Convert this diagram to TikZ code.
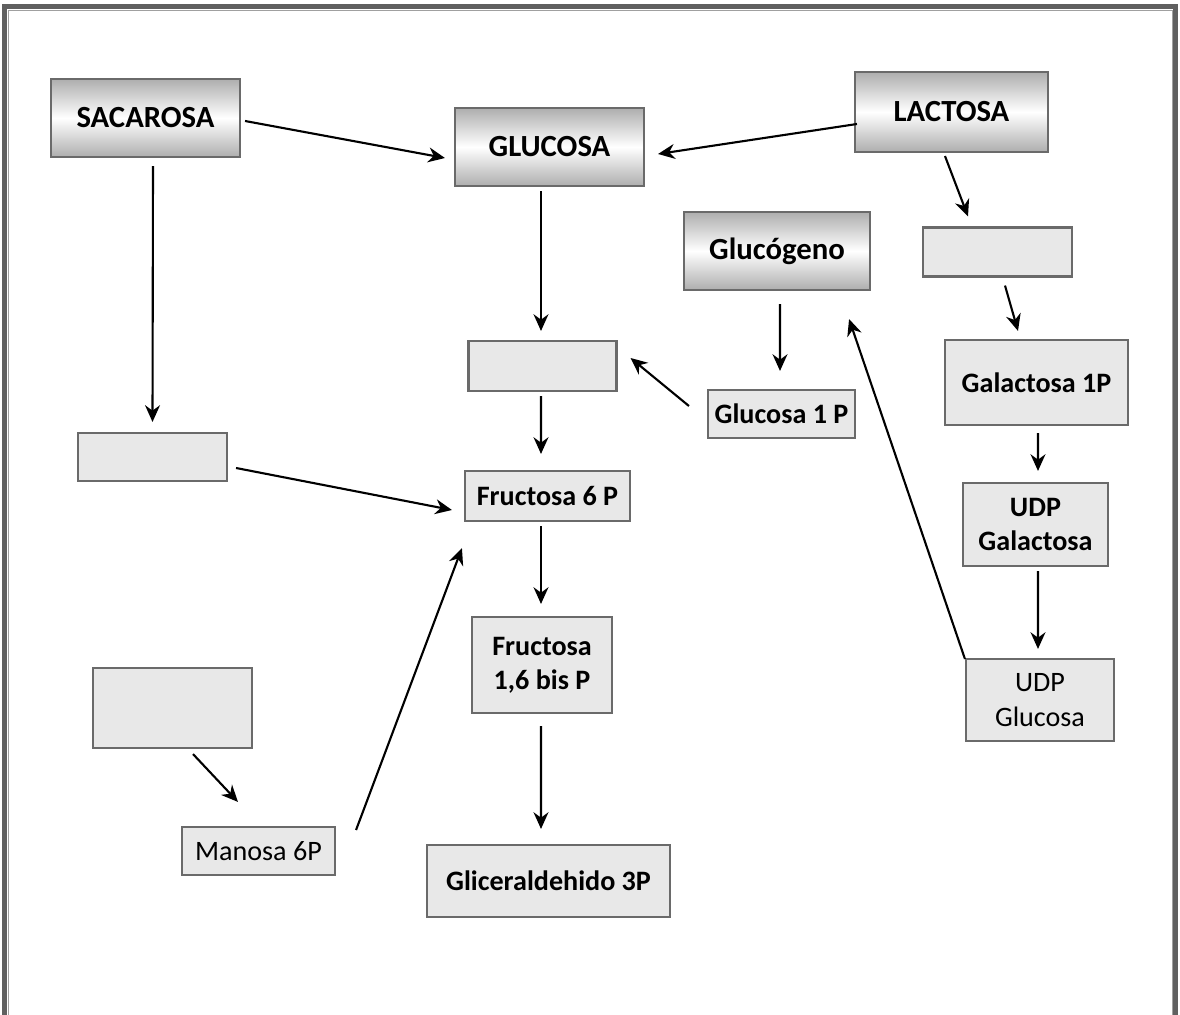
\documentclass[tikz,border=0pt]{standalone}
\usepackage{fontspec}
\setmainfont{Carlito}
\usetikzlibrary{arrows.meta}
\definecolor{boxfill}{HTML}{E8E8E8}
\definecolor{boxline}{HTML}{6A6A6A}
\definecolor{shadegray}{HTML}{AEAEAE}
\definecolor{framegray}{HTML}{606060}

\begin{document}
\begin{tikzpicture}[
    base/.style={
      draw=boxline, line width=1.2pt, inner sep=2pt,
      align=center, text=black,
    },
    plainbox/.style={base, fill=boxfill, font=\fontsize{16}{19.5}\selectfont\bfseries},
    thinbox/.style={base, fill=boxfill, font=\fontsize{16}{19.5}\selectfont},
    sugar/.style={base, top color=shadegray, bottom color=shadegray, middle color=white,
      font=\fontsize{17.5}{20}\selectfont\bfseries},
    link/.style={line width=1.2pt, -{Stealth[length=9.5pt,width=8.5pt]}},
  ]
  \useasboundingbox (0,0) rectangle (23.6,-20.3);

  % ===== frame (open at the bottom) =====
  \draw[framegray, line width=2.4pt] (0.09,-20.3) -- (0.09,-0.13) -- (23.51,-0.13) -- (23.51,-20.3);
  \draw[framegray!60, line width=0.4pt] (0.16,-20.3) -- (0.16,-0.2) -- (23.44,-0.2) -- (23.44,-20.3);

  % ===== shaded sugars =====
  \node[sugar, minimum width=3.78cm, minimum height=1.56cm] (sacarosa)  at (2.91,-2.36)  {SACAROSA};
  \node[sugar, minimum width=3.78cm, minimum height=1.56cm] (glucosa)   at (10.99,-2.94) {GLUCOSA};
  \node[sugar, minimum width=3.86cm, minimum height=1.60cm] (lactosa)   at (19.03,-2.24) {LACTOSA};
  \node[sugar, minimum width=3.72cm, minimum height=1.56cm] (glucogeno) at (15.54,-5.02) {Glucógeno};

  % ===== empty boxes =====
  \node[plainbox, minimum width=2.98cm, minimum height=0.98cm] (vaciolac)  at (19.95,-5.04)  {};
  \node[plainbox, minimum width=2.96cm, minimum height=1.00cm] (vacioglc)  at (10.85,-7.32)  {};
  \node[plainbox, minimum width=2.98cm, minimum height=0.96cm] (vaciosac)  at (3.05,-9.14)   {};
  \node[plainbox, minimum width=3.18cm, minimum height=1.60cm] (vacioman)  at (3.45,-14.16)  {};

  % ===== named intermediates =====
  \node[plainbox, minimum width=2.94cm, minimum height=0.96cm] (glc1p)   at (15.63,-8.28)  {Glucosa 1 P};
  \node[plainbox, minimum width=3.66cm, minimum height=1.70cm] (gal1p)   at (20.73,-7.65)  {Galactosa 1P};
  \node[plainbox, minimum width=3.30cm, minimum height=1.00cm] (fru6p)   at (10.95,-9.92)  {Fructosa 6 P};
  \node[plainbox, minimum width=2.90cm, minimum height=1.66cm] (udpgal)  at (20.71,-10.49) {UDP\\Galactosa};
  \node[plainbox, minimum width=2.80cm, minimum height=1.92cm] (fru16p)  at (10.84,-13.30) {Fructosa\\1,6 bis P};
  \node[thinbox,  minimum width=2.96cm, minimum height=1.64cm] (udpglc)  at (20.80,-14.00) {UDP\\Glucosa};
  \node[thinbox,  minimum width=3.06cm, minimum height=0.96cm] (man6p)   at (5.17,-17.02)  {Manosa 6P};
  \node[plainbox, minimum width=4.86cm, minimum height=1.44cm] (gliald)  at (10.97,-17.62) {Gliceraldehido 3P};

  % ===== connectors =====
  \draw[link] ([shift={(0.08,-0.06)}]sacarosa.east)  -- ([shift={(-0.18,-0.22)}]glucosa.west);
  \draw[link] ([shift={(0.06,-0.24)}]lactosa.west)   -- ([shift={(0.26,-0.14)}]glucosa.east);
  \draw[link] ([shift={(0.15,-0.16)}]sacarosa.south) -- ([shift={(0,0.20)}]vaciosac.north);
  \draw[link] ([shift={(-0.17,-0.08)}]glucosa.south) -- ([shift={(-0.03,0.18)}]vacioglc.north);
  \draw[link] ([shift={(-0.13,-0.06)}]lactosa.south) -- ([shift={(-0.59,0.20)}]vaciolac.north);
  \draw[link] ([shift={(0.06,-0.26)}]glucogeno.south) -- ([shift={(-0.03,0.36)}]glc1p.north);
  \draw[link] ([shift={(-0.36,0.16)}]glc1p.west)     -- ([shift={(0.26,0.16)}]vacioglc.east);
  \draw[link] ([shift={(0.15,-0.16)}]vaciolac.south) -- ([shift={(-0.37,0.16)}]gal1p.north);
  \draw[link] ([shift={(-0.03,-0.08)}]vacioglc.south) -- ([shift={(-0.13,0.32)}]fru6p.north);
  \draw[link] ([shift={(0.16,-0.22)}]vaciosac.east)  -- ([shift={(-0.24,-0.28)}]fru6p.west);
  \draw[link] ([shift={(0.03,-0.14)}]gal1p.south)    -- ([shift={(0.05,0.22)}]udpgal.north);
  \draw[link] ([shift={(-0.13,-0.08)}]fru6p.south)   -- ([shift={(-0.02,0.24)}]fru16p.north);
  \draw[link] ([shift={(0.05,-0.08)}]udpgal.south)   -- ([shift={(-0.04,0.18)}]udpglc.north);
  \draw[link] ([shift={(0,-0.02)}]udpglc.north west) -- ([shift={(-0.44,-0.56)}]glucogeno.south east);
  \draw[link] ([shift={(-0.02,-0.24)}]fru16p.south)  -- ([shift={(-0.15,0.30)}]gliald.north);
  \draw[link] ([shift={(0.41,-0.10)}]vacioman.south) -- ([shift={(-0.41,0.48)}]man6p.north);
  \draw[link] ([shift={(0.40,0.42)}]man6p.east)      -- ([shift={(-0.04,-0.52)}]fru6p.south west);
\end{tikzpicture}
\end{document}
